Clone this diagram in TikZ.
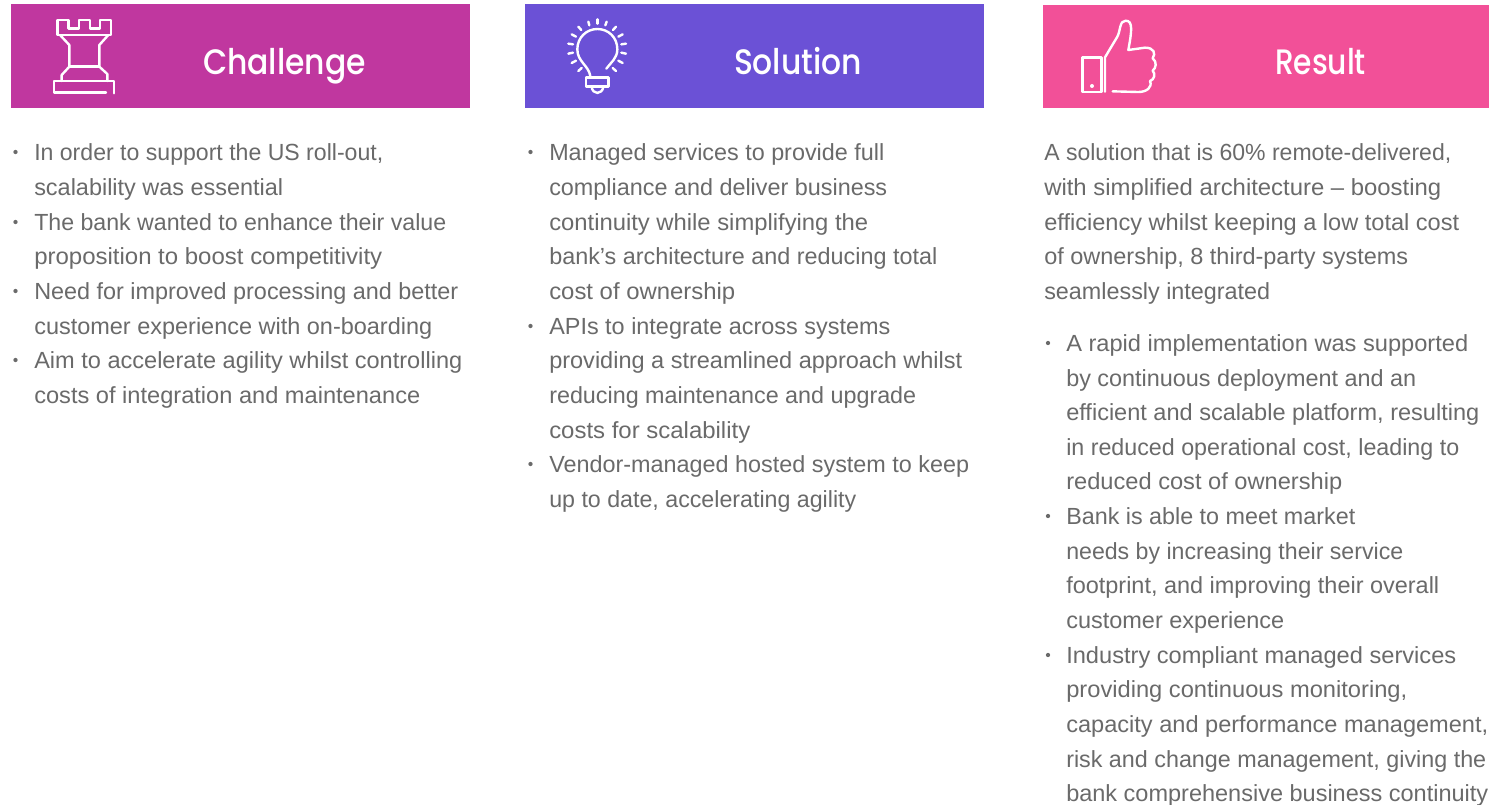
\documentclass[tikz,border=0pt]{standalone}
\usepackage{fontspec}
\setmainfont{Liberation Sans}
\newfontfamily\headfont[UprightFont=* Medium]{Poppins}
\definecolor{chal}{HTML}{C0379F}
\definecolor{solu}{HTML}{6B51D6}
\definecolor{resu}{HTML}{F25098}
\definecolor{body}{HTML}{6A6A6A}
\newsavebox{\fitbox}
% #1 target width in reference pixels, #2 text: scaled horizontally to that width
\newcommand{\fitwidth}[2]{\sbox{\fitbox}{#2}\pgfmathsetmacro{\fitratio}{#1*0.75/\wd\fitbox*1pt}\scalebox{\fitratio}[1]{\usebox{\fitbox}}}
\tikzset{
 head/.style={text=white,font=\headfont\fontsize{26.5}{30}\selectfont,anchor=base,inner sep=0},
 line/.style={text=body,font=\fontsize{17.5}{20}\selectfont,anchor=base west,inner sep=0},
 bull/.style={circle,fill=body,draw=none,minimum size=3.2pt,inner sep=0},
 icon/.style={draw=white,line width=1.8pt,line cap=round,line join=round}
}
\begin{document}
\begin{tikzpicture}[x=0.75pt,y=-0.75pt]
\useasboundingbox (0,0) rectangle (1489,804);
\fill[white] (0,0) rectangle (1489,804);
\fill[chal] (11,4) rectangle (470,108);
\fill[solu] (525,4) rectangle (984,108);
\fill[resu] (1043,5) rectangle (1489,108);
\node[head] (hc) at (284.5,74) {\fitwidth{163}{Challenge}};
\node[head] (hs) at (798,74) {\fitwidth{128}{Solution}};
\node[head] (hr) at (1320.5,74) {\fitwidth{91}{Result}};
% rook
\begin{scope}[x=0.25pt,y=-0.25pt]
\draw[icon] (172,60)--(172,105)--(333,105)--(333,60)--(300,60)--(300,85)--(270,85)--(270,60)--(237,60)--(237,85)--(205,85)--(205,60)--cycle;
\draw[icon] (180,105)--(208,135)--(208,200)--(185,225)--(185,243);
\draw[icon] (325,105)--(298,135)--(298,200)--(322,222)--(322,243);
\draw[icon] (208,200)--(298,200);
\draw[icon] (318,278)--(162,278)--(162,243)--(342,243)--(342,280);
\end{scope}
% bulb
\begin{scope}[x=0.25pt,y=-0.25pt,shift={(390pt,0pt)}]
\draw[icon] (211,228) .. controls (205,195) and (172,185) .. (172,148) .. controls (172,112) and (200,87) .. (232,87) .. controls (265,87) and (292,112) .. (292,148) .. controls (292,175) and (272,188) .. (259,206);
\draw[icon] (198,232) rectangle (266,260);
\draw[icon] (215,260) .. controls (217,285) and (247,285) .. (250,260);
\foreach \a/\b/\c/\d in {232/58/232/71,205/65/208/76,260/65/256/76,175/80/184/90,288/80/279/90,155/103/168/110,308/103/295/110,145/131/159/133,318/131/304/133,145/161/159/158,318/161/304/158,155/189/168/182,308/189/295/182,175/213/185/204,288/213/278/204}
 \draw[icon] (\a,\b)--(\c,\d);
\end{scope}
% thumb
\begin{scope}[x=0.25pt,y=-0.25pt,shift={(772.5pt,0pt)}]
\draw[icon] (158,173) rectangle (215,276);
\fill[white] (186,258) circle (6);
\draw[icon] (225,275)--(225,172)--(262,110) .. controls (272,92) and (268,62) .. (287,62) .. controls (310,62) and (305,95) .. (295,150)--(345,143) .. controls (372,143) and (378,160) .. (368,175) .. controls (382,185) and (378,205) .. (368,212) .. controls (378,222) and (372,240) .. (360,243) .. controls (368,262) and (350,276) .. (325,276)--(248,274);
\end{scope}
% bullets and text
\foreach \i/\x/\y in {1/15.5/152,2/15.5/222,3/15.5/291,4/15.5/360,5/530.5/152,6/530.5/326,7/530.5/464,8/1048/343,9/1048/516,10/1048/655}
 \node[bull] (b\i) at (\x,\y) {};
\foreach \i/\y/\w/\t in {
 1/160/349/{In order to support the US roll-out,},
 2/195/249/{scalability was essential},
 3/230/412/{The bank wanted to enhance their value},
 4/264/348/{proposition to boost competitivity},
 5/299/424/{Need for improved processing and better},
 6/334/398/{customer experience with on-boarding},
 7/368/428/{Aim to accelerate agility whilst controlling},
 8/403/386/{costs of integration and maintenance}}
 \node[line] (c\i) at (34,\y) {\fitwidth{\w}{\t}};
\foreach \i/\y/\w/\t in {
 1/160/335/{Managed services to provide full},
 2/195/338/{compliance and deliver business},
 3/230/319/{continuity while simplifying the},
 4/264/388/{bank’s architecture and reducing total},
 5/299/186/{cost of ownership},
 6/334/341/{APIs to integrate across systems},
 7/368/413/{providing a streamlined approach whilst},
 8/403/367/{reducing maintenance and upgrade},
 9/438/201/{costs for scalability},
 10/472/420/{Vendor-managed hosted system to keep},
 11/507/307/{up to date, accelerating agility}}
 \node[line] (s\i) at (549,\y) {\fitwidth{\w}{\t}};
\foreach \i/\y/\w/\t in {
 1/160/407/{A solution that is 60\% remote-delivered,},
 2/195/397/{with simplified architecture – boosting},
 3/230/415/{efficiency whilst keeping a low total cost},
 4/264/364/{of ownership, 8 third-party systems},
 5/299/226/{seamlessly integrated}}
 \node[line] (r\i) at (1044,\y) {\fitwidth{\w}{\t}};
\foreach \i/\y/\w/\t in {
 1/351/402/{A rapid implementation was supported},
 2/386/350/{by continuous deployment and an},
 3/420/413/{efficient and scalable platform, resulting},
 4/455/393/{in reduced operational cost, leading to},
 5/489/276/{reduced cost of ownership},
 6/524/289/{Bank is able to meet market},
 7/559/337/{needs by increasing their service},
 8/593/373/{footprint, and improving their overall},
 9/628/218/{customer experience},
 10/663/390/{Industry compliant managed services},
 11/697/341/{providing continuous monitoring,},
 12/732/422/{capacity and performance management,},
 13/767/420/{risk and change management, giving the},
 14/801/422/{bank comprehensive business continuity}}
 \node[line] (q\i) at (1066,\y) {\fitwidth{\w}{\t}};
\end{tikzpicture}
\end{document}
